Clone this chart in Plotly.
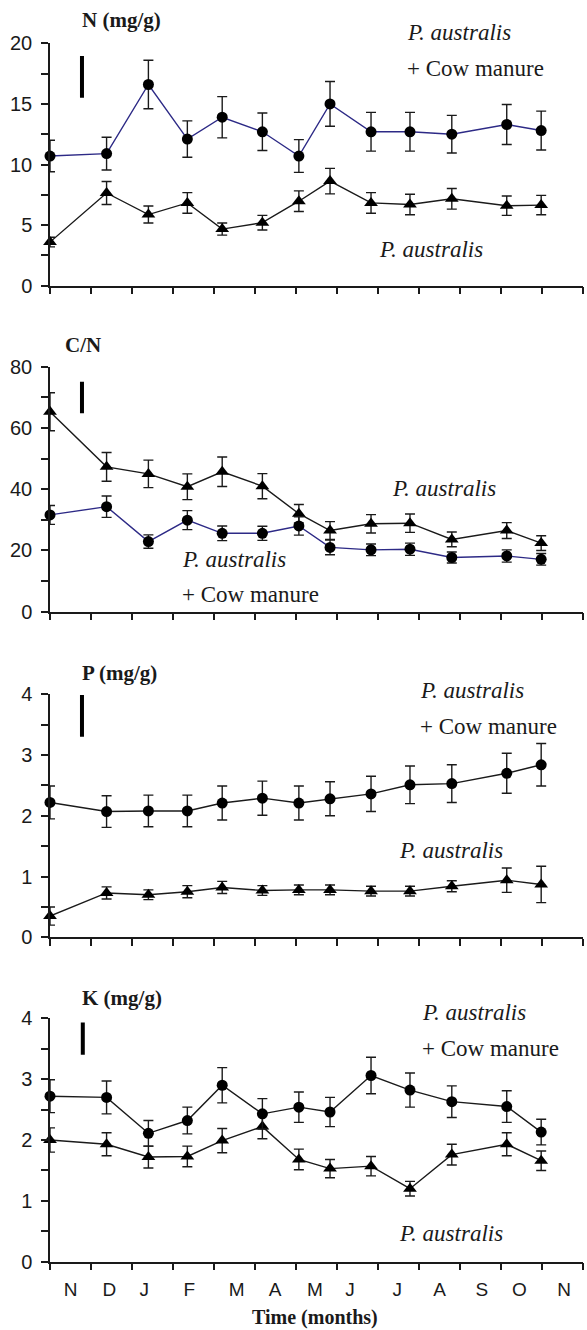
import plotly.graph_objects as go

# ---------------- data ----------------
sample_x = [0, 1.38, 2.40, 3.35, 4.20, 5.18, 6.07, 6.83, 7.83, 8.78, 9.80, 11.14, 11.98]
months = ["N", "D", "J", "F", "M", "A", "M", "J", "J", "A", "S", "O", "N"]
month_pos = [0.5, 1.45, 2.3, 3.4, 4.55, 5.49, 6.46, 7.32, 8.47, 9.5, 10.53, 11.45, 12.54]
month_edges = list(range(0, 14))

N_cm = [10.7, 10.9, 16.6, 12.1, 13.9, 12.7, 10.7, 15.0, 12.7, 12.7, 12.5, 13.3, 12.8]
N_cm_err = [1.3, 1.35, 2.0, 1.5, 1.7, 1.55, 1.35, 1.85, 1.6, 1.6, 1.55, 1.65, 1.6]
N_pa = [3.6, 7.65, 5.87, 6.83, 4.67, 5.2, 6.97, 8.63, 6.83, 6.7, 7.17, 6.6, 6.65]
N_pa_err = [0.4, 0.95, 0.7, 0.85, 0.5, 0.6, 0.85, 1.05, 0.85, 0.85, 0.85, 0.8, 0.8]

CN_cm = [31.6, 34.3, 22.9, 29.9, 25.6, 25.6, 28.0, 21.0, 20.2, 20.4, 17.7, 18.2, 17.1]
CN_cm_err = [3.1, 3.5, 2.2, 3.1, 2.4, 2.3, 3.0, 2.4, 1.9, 2.0, 1.8, 2.0, 1.9]
CN_pa = [65.3, 47.3, 45.0, 40.8, 45.7, 41.0, 32.0, 26.5, 28.7, 28.9, 23.6, 26.5, 22.4]
CN_pa_err = [6.2, 4.7, 4.5, 4.2, 4.8, 4.1, 3.0, 2.9, 3.0, 3.0, 2.4, 2.6, 2.4]

P_cm = [2.22, 2.07, 2.08, 2.08, 2.21, 2.29, 2.21, 2.28, 2.36, 2.51, 2.53, 2.70, 2.84]
P_cm_err = [0.27, 0.26, 0.26, 0.26, 0.28, 0.28, 0.28, 0.28, 0.29, 0.31, 0.31, 0.33, 0.35]
P_pa = [0.35, 0.73, 0.70, 0.75, 0.82, 0.77, 0.78, 0.78, 0.76, 0.76, 0.84, 0.94, 0.87]
P_pa_err = [0.15, 0.1, 0.08, 0.1, 0.1, 0.08, 0.08, 0.08, 0.08, 0.08, 0.09, 0.2, 0.3]

K_cm = [2.72, 2.70, 2.11, 2.32, 2.90, 2.43, 2.54, 2.46, 3.06, 2.82, 2.63, 2.55, 2.13]
K_cm_err = [0.27, 0.27, 0.21, 0.22, 0.29, 0.25, 0.25, 0.24, 0.3, 0.28, 0.26, 0.26, 0.21]
K_pa = [2.0, 1.93, 1.72, 1.73, 1.99, 2.22, 1.68, 1.53, 1.57, 1.20, 1.76, 1.93, 1.66]
K_pa_err = [0.2, 0.19, 0.18, 0.17, 0.2, 0.2, 0.17, 0.15, 0.16, 0.12, 0.17, 0.19, 0.16]

# LSD bars: (x, y_low, y_high)
N_lsd = [0.78, 15.5, 18.95]
CN_lsd = [0.78, 64.8, 75.1]
P_lsd = [0.78, 3.30, 3.99]
K_lsd = [0.80, 3.40, 3.93]

titles = ["N (mg/g)", "C/N", "P (mg/g)", "K (mg/g)"]
y_max = [20, 80, 4, 4]
y_dtick = [5, 20, 1, 1]

# ---------------- layout helpers ----------------
W, H = 587, 1330
ML, MR, MT, MB = 50, 4, 43, 68
PW = W - ML - MR
PH = H - MT - MB
BOT = H - MB


def px_x(px):
    return (px - ML) / PW


def px_y(py):
    return (BOT - py) / PH


panel_px = [(43.3, 285.7), (366.7, 611.7), (694.3, 937.3), (1018.3, 1261.7)]

NAVY = "#2d2a86"
INK = "#1a1a1a"

panels = [
    (N_cm, N_cm_err, N_pa, N_pa_err, N_lsd, NAVY),
    (CN_cm, CN_cm_err, CN_pa, CN_pa_err, CN_lsd, NAVY),
    (P_cm, P_cm_err, P_pa, P_pa_err, P_lsd, INK),
    (K_cm, K_cm_err, K_pa, K_pa_err, K_lsd, INK),
]

fig = go.Figure()
shapes = []
layout = {}
for i, (cm, cm_e, pa, pa_e, lsd, cm_col) in enumerate(panels):
    n = i + 1
    xa = "x" if n == 1 else f"x{n}"
    ya = "y" if n == 1 else f"y{n}"
    err_style = dict(type="data", thickness=1.4, width=5, color=INK)
    fig.add_trace(go.Scatter(
        x=sample_x, y=pa, xaxis=xa, yaxis=ya, mode="lines+markers",
        line=dict(color=INK, width=1.4),
        marker=dict(symbol="triangle-up", size=12, color="black"),
        error_y=dict(array=pa_e, **err_style), cliponaxis=False, showlegend=False))
    fig.add_trace(go.Scatter(
        x=sample_x, y=cm, xaxis=xa, yaxis=ya, mode="lines+markers",
        line=dict(color=cm_col, width=1.4),
        marker=dict(symbol="circle", size=11, color="black"),
        error_y=dict(array=cm_e, **err_style), cliponaxis=False, showlegend=False))
    shapes.append(dict(type="line", xref=xa, yref=ya, x0=lsd[0], x1=lsd[0],
                       y0=lsd[1], y1=lsd[2], line=dict(color="black", width=4)))

    top, bot = panel_px[i]
    layout[f"xaxis{'' if n == 1 else n}"] = dict(
        domain=[0, 1], anchor=ya, range=[0, 13], showline=True, linecolor=INK,
        linewidth=1.5, showgrid=False, zeroline=False,
        tickmode="array", tickvals=month_pos, ticktext=months, ticks="",
        showticklabels=(n == 4), ticklabelstandoff=10,
        tickfont=dict(family="Liberation Sans, Arial", size=19, color=INK),
        minor=dict(tickmode="array", tickvals=month_edges, ticks="outside",
                   ticklen=7, tickwidth=1.5, tickcolor=INK, showgrid=False),
    )
    layout[f"yaxis{'' if n == 1 else n}"] = dict(
        domain=[px_y(bot), px_y(top)], anchor=xa, range=[0, y_max[i]],
        showline=True, linecolor=INK, linewidth=1.5, showgrid=False,
        zeroline=False, dtick=y_dtick[i], tick0=0, ticks="outside", ticklen=7,
        tickwidth=1.5, tickcolor=INK, ticklabelstandoff=5,
        tickfont=dict(family="Liberation Sans, Arial", size=20, color=INK),
        minor=dict(dtick=y_dtick[i] / 2, tick0=0, ticks="outside", ticklen=7,
                   tickwidth=1.5, tickcolor=INK, showgrid=False),
    )

# ---------------- text annotations ----------------
serif = "Liberation Serif, Times New Roman, serif"
ann = []


def add_text(text, left_px, cy_px, size=23, bold=False, italic=False):
    t = text
    if italic:
        t = f"<i>{t}</i>"
    if bold:
        t = f"<b>{t}</b>"
    ann.append(dict(text=t, xref="paper", yref="paper", x=px_x(left_px),
                    y=px_y(cy_px), xanchor="left", yanchor="middle",
                    showarrow=False, font=dict(family=serif, size=size, color=INK)))


add_text(titles[0], 80, 20, size=21, bold=True)
add_text(titles[1], 63, 345, size=21, bold=True)
add_text(titles[2], 80, 673, size=21, bold=True)
add_text(titles[3], 80, 998, size=21, bold=True)

add_text("P. australis", 405, 33, italic=True)
add_text("+ Cow manure", 405, 69)
add_text("P. australis", 377, 250, italic=True)

add_text("P. australis", 390, 488, italic=True)
add_text("P. australis", 180, 559, italic=True)
add_text("+ Cow manure", 180, 594)

add_text("P. australis", 418, 690, italic=True)
add_text("+ Cow manure", 418, 726)
add_text("P. australis", 397, 851, italic=True)

add_text("P. australis", 420, 1013, italic=True)
add_text("+ Cow manure", 420, 1048)
add_text("P. australis", 397, 1233, italic=True)

ann.append(dict(text="<b>Time (months)</b>", xref="paper", yref="paper",
                x=px_x(315), y=px_y(1317), xanchor="center", yanchor="middle",
                showarrow=False, font=dict(family=serif, size=20, color=INK)))

fig.update_layout(
    width=W, height=H, margin=dict(l=ML, r=MR, t=MT, b=MB, autoexpand=False),
    paper_bgcolor="white", plot_bgcolor="white", showlegend=False,
    shapes=shapes, annotations=ann, **layout)

fig.write_html("out.html", config={"displayModeBar": False},
               post_script="document.body.style.margin='0px';document.body.style.overflow='hidden';")
